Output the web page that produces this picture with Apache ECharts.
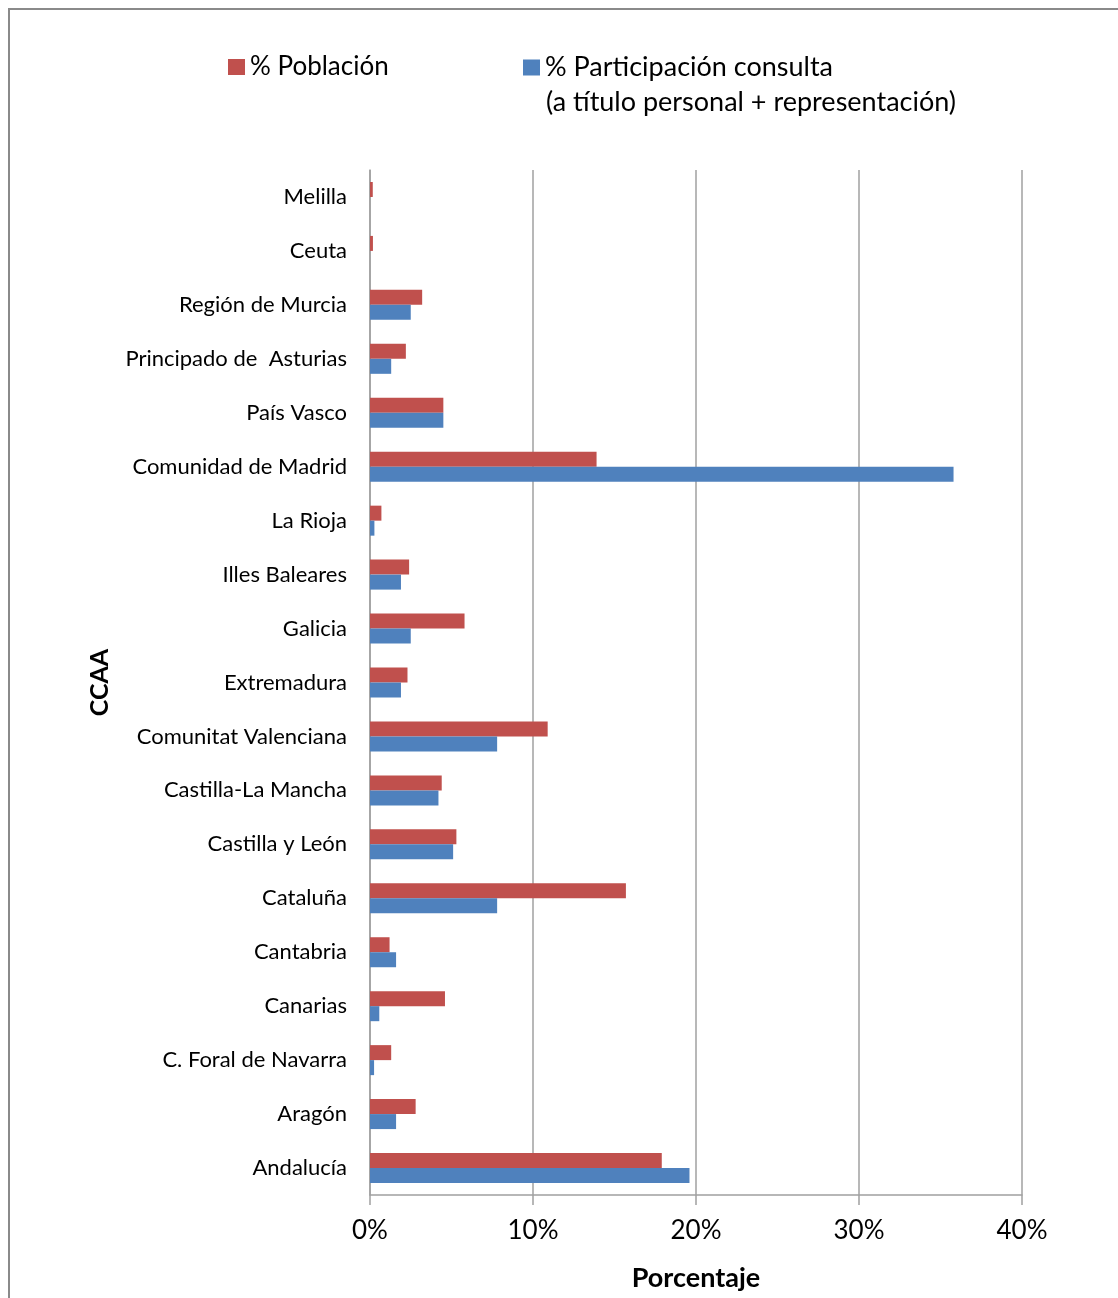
<!DOCTYPE html>
<html>
<head>
<meta charset="utf-8">
<script src="https://cdn.jsdelivr.net/npm/echarts@6/dist/echarts.min.js"></script>
<style>
html,body{margin:0;padding:0;background:#fff;}
#chart{width:1118px;height:1298px;}
</style>
</head>
<body>
<div id="chart"></div>
<script>
const categories = ['Andalucía','Aragón','C. Foral de Navarra','Canarias','Cantabria','Cataluña','Castilla y León','Castilla-La Mancha','Comunitat Valenciana','Extremadura','Galicia','Illes Baleares','La Rioja','Comunidad de Madrid','País Vasco','Principado de  Asturias','Región de Murcia','Ceuta','Melilla'];
const poblacion = [17.9, 2.8, 1.3, 4.6, 1.2, 15.7, 5.3, 4.4, 10.9, 2.3, 5.8, 2.4, 0.7, 13.9, 4.5, 2.2, 3.2, 0.18, 0.17];
const participacion = [19.6, 1.6, 0.25, 0.57, 1.6, 7.8, 5.1, 4.2, 7.8, 1.9, 2.5, 1.9, 0.27, 35.8, 4.5, 1.3, 2.5, 0, 0];
const xTicks = [0, 10, 20, 30, 40];
const namePob = '% Población';
const namePart = '% Participación consulta';
const namePart2 = '(a título personal + representación)';

const FONT = 'Lato';
const chart = echarts.init(document.getElementById('chart'));
chart.setOption({
  animation: false,
  textStyle: {fontFamily: FONT},
  graphic: [
    {type: 'rect', shape: {x: 9, y: 9, width: 1130, height: 1310}, style: {fill: 'none', stroke: '#8a8a8a', lineWidth: 2}, silent: true},
    {type: 'text', left: 546, top: 89, style: {text: namePart2, font: '27px ' + FONT, fill: '#000'}}
  ],
  legend: [
    {data: [namePob], left: 228, top: 54, padding: 0, icon: 'rect', itemWidth: 17, itemHeight: 16,
     textStyle: {fontSize: 26, color: '#000', fontFamily: FONT}},
    {data: [namePart], left: 523, top: 54, padding: 0, icon: 'rect', itemWidth: 17, itemHeight: 16,
     textStyle: {fontSize: 27, color: '#000', fontFamily: FONT}}
  ],
  grid: {left: 370, top: 170, width: 652, height: 1025, containLabel: false},
  xAxis: {
    type: 'value', min: xTicks[0], max: xTicks[xTicks.length - 1], interval: 10,
    axisLine: {show: true, lineStyle: {color: '#a0a0a0', width: 1.5}},
    axisTick: {show: true, length: 10, lineStyle: {color: '#a0a0a0', width: 1.5}},
    splitLine: {show: true, lineStyle: {color: '#a0a0a0', width: 1.5}},
    axisLabel: {formatter: '{value}%', fontSize: 26, color: '#000', margin: 23, fontFamily: FONT},
    name: 'Porcentaje', nameLocation: 'middle', nameGap: 70,
    nameTextStyle: {fontSize: 27, fontWeight: 'bold', color: '#000', fontFamily: FONT}
  },
  yAxis: {
    type: 'category', data: categories,
    axisLine: {show: true, lineStyle: {color: '#a0a0a0', width: 1.5}},
    axisTick: {show: false},
    axisLabel: {fontSize: 22, color: '#000', margin: 23, fontFamily: FONT},
    name: 'CCAA', nameLocation: 'middle', nameRotate: 90, nameGap: 258,
    nameTextStyle: {fontSize: 25, fontWeight: 'bold', color: '#000', fontFamily: FONT}
  },
  series: [
    {name: namePob, type: 'bar', data: poblacion, barWidth: 15, barGap: '0%',
     itemStyle: {color: '#C0504D'}},
    {name: namePart, type: 'bar', data: participacion, barWidth: 15, barGap: '0%',
     itemStyle: {color: '#4F81BD'}}
  ]
});
</script>
</body>
</html>
